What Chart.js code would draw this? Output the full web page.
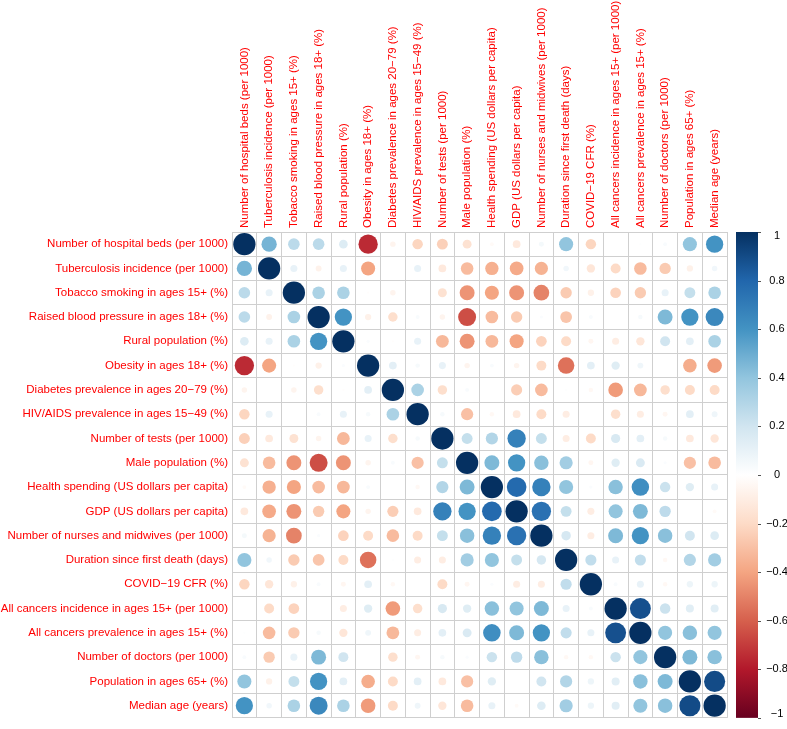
<!DOCTYPE html>
<html>
<head>
<meta charset="utf-8">
<script src="https://cdn.jsdelivr.net/npm/chart.js@4/dist/chart.umd.min.js"></script>
<style>
  html, body { margin: 0; padding: 0; background: #ffffff; }
  #wrap { width: 787px; height: 729px; }
</style>
</head>
<body>
<div id="wrap"><canvas id="c" width="787" height="729"></canvas></div>
<script>
// ---- variable labels ----
const varLabels = [
  "Number of hospital beds (per 1000)",
  "Tuberculosis incidence (per 1000)",
  "Tobacco smoking in ages 15+ (%)",
  "Raised blood pressure in ages 18+ (%)",
  "Rural population (%)",
  "Obesity in ages 18+ (%)",
  "Diabetes prevalence in ages 20\u221279 (%)",
  "HIV/AIDS prevalence in ages 15\u221249 (%)",
  "Number of tests (per 1000)",
  "Male population (%)",
  "Health spending (US dollars per capita)",
  "GDP (US dollars per capita)",
  "Number of nurses and midwives (per 1000)",
  "Duration since first death (days)",
  "COVID\u221219 CFR (%)",
  "All cancers incidence in ages 15+ (per 1000)",
  "All cancers prevalence in ages 15+ (%)",
  "Number of doctors (per 1000)",
  "Population in ages 65+ (%)",
  "Median age (years)"
];

// ---- correlation rows (one per variable) ----
const hospitalBeds  = [1, 0.47, 0.27, 0.27, 0.15, -0.75, -0.06, -0.22, -0.24, -0.16, -0.03, -0.12, 0.05, 0.40, -0.22, 0.00, 0.01, 0.03, 0.40, 0.60];
const tuberculosis  = [0.47, 1, 0.10, -0.07, 0.10, -0.40, 0.00, 0.10, -0.12, -0.32, -0.36, -0.38, -0.35, 0.06, -0.14, -0.20, -0.32, -0.26, -0.08, 0.06];
const tobacco       = [0.27, 0.10, 1, 0.32, 0.32, -0.01, -0.06, 0.00, -0.16, -0.45, -0.40, -0.45, -0.50, -0.26, -0.08, -0.23, -0.26, 0.10, 0.24, 0.32];
const bloodPressure = [0.27, -0.07, 0.32, 1, 0.60, -0.08, -0.18, 0.03, -0.06, -0.65, -0.32, -0.26, 0.02, -0.28, 0.03, 0.00, 0.04, 0.45, 0.60, 0.65];
const ruralPop      = [0.15, 0.10, 0.32, 0.60, 1, 0.02, -0.01, 0.10, -0.33, -0.45, -0.33, -0.40, -0.23, -0.20, -0.05, -0.10, -0.14, 0.20, 0.12, 0.32];
const obesity       = [-0.75, -0.40, -0.01, -0.08, 0.02, 1, 0.12, 0.04, 0.10, -0.06, 0.03, -0.06, -0.20, -0.55, 0.12, 0.14, 0.07, 0.00, -0.37, -0.43];
const diabetes      = [-0.06, 0.00, -0.06, -0.18, -0.01, 0.12, 1, 0.32, -0.18, 0.03, 0.00, -0.25, -0.32, 0.01, -0.04, -0.43, -0.33, -0.18, -0.20, -0.20];
const hivAids       = [-0.22, 0.10, 0.00, 0.03, 0.10, 0.04, 0.32, 1, 0.04, -0.30, -0.04, -0.12, -0.20, -0.10, 0.00, -0.18, -0.10, -0.05, 0.12, 0.07];
const tests         = [-0.24, -0.12, -0.16, -0.06, -0.33, 0.10, -0.18, 0.04, 1, 0.24, 0.30, 0.68, 0.24, -0.10, -0.20, 0.17, 0.12, 0.04, -0.12, -0.14];
const malePop       = [-0.16, -0.32, -0.45, -0.65, -0.45, -0.06, 0.03, -0.30, 0.24, 1, 0.45, 0.60, 0.42, 0.35, -0.05, 0.14, 0.16, 0.02, -0.30, -0.32];
const healthSpend   = [-0.03, -0.36, -0.40, -0.32, -0.33, 0.03, 0.00, -0.04, 0.30, 0.45, 1, 0.78, 0.68, 0.40, 0.02, 0.42, 0.62, 0.22, 0.14, 0.10];
const gdp           = [-0.12, -0.38, -0.45, -0.26, -0.40, -0.06, -0.25, -0.12, 0.68, 0.60, 0.78, 1, 0.75, 0.24, -0.10, 0.40, 0.45, 0.26, 0.00, -0.03];
const nurses        = [0.05, -0.35, -0.50, 0.02, -0.23, -0.20, -0.32, -0.20, 0.24, 0.42, 0.68, 0.75, 1, 0.18, -0.10, 0.45, 0.60, 0.42, 0.20, 0.15];
const durationDeath = [0.40, 0.06, -0.26, -0.28, -0.20, -0.55, 0.01, -0.10, -0.10, 0.35, 0.40, 0.24, 0.18, 1, 0.25, 0.10, 0.25, -0.04, 0.30, 0.35];
const covidCfr      = [-0.22, -0.14, -0.08, 0.03, -0.05, 0.12, -0.04, 0.00, -0.20, -0.05, 0.02, -0.10, -0.10, 0.25, 1, 0.03, 0.10, -0.04, 0.08, 0.08];
const cancerInc     = [0.00, -0.20, -0.23, 0.00, -0.10, 0.14, -0.43, -0.18, 0.17, 0.14, 0.42, 0.40, 0.45, 0.10, 0.03, 1, 0.88, 0.22, 0.13, 0.13];
const cancerPrev    = [0.01, -0.32, -0.26, 0.04, -0.14, 0.07, -0.33, -0.10, 0.12, 0.16, 0.62, 0.45, 0.60, 0.25, 0.10, 0.88, 1, 0.40, 0.42, 0.40];
const doctors       = [0.03, -0.26, 0.10, 0.45, 0.20, 0.00, -0.18, -0.05, 0.04, 0.02, 0.22, 0.26, 0.42, -0.04, -0.04, 0.22, 0.40, 1, 0.45, 0.42];
const pop65         = [0.40, -0.08, 0.24, 0.60, 0.12, -0.37, -0.20, 0.12, -0.12, -0.30, 0.14, 0.00, 0.20, 0.30, 0.08, 0.13, 0.42, 0.45, 1, 0.90];
const medianAge     = [0.60, 0.06, 0.32, 0.65, 0.32, -0.43, -0.20, 0.07, -0.14, -0.32, 0.10, -0.03, 0.15, 0.35, 0.08, 0.13, 0.40, 0.42, 0.90, 1];

// ---- colour legend ticks ----
const legendTicks = [1, 0.8, 0.6, 0.4, 0.2, 0, -0.2, -0.4, -0.6, -0.8, -1];

const corrRows = [hospitalBeds, tuberculosis, tobacco, bloodPressure, ruralPop, obesity,
  diabetes, hivAids, tests, malePop, healthSpend, gdp, nurses, durationDeath, covidCfr,
  cancerInc, cancerPrev, doctors, pop65, medianAge];

// RdBu palette (corrplot COL2), from -1 to 1
const palette = ["#67001F", "#B2182B", "#D6604D", "#F4A582", "#FDDBC7", "#FFFFFF",
                 "#D1E5F0", "#92C5DE", "#4393C3", "#2166AC", "#053061"];
function hexToRgb(h) { return [parseInt(h.substr(1,2),16), parseInt(h.substr(3,2),16), parseInt(h.substr(5,2),16)]; }
const palRgb = palette.map(hexToRgb);
function colorFor(v) {
  const t = (Math.max(-1, Math.min(1, v)) + 1) / 2 * (palRgb.length - 1);
  const i = Math.min(palRgb.length - 2, Math.floor(t));
  const f = t - i;
  const a = palRgb[i], b = palRgb[i + 1];
  const c = a.map((x, k) => Math.round(x + (b[k] - x) * f));
  return `rgb(${c[0]},${c[1]},${c[2]})`;
}

const points = [];
corrRows.forEach((row, i) => {
  row.forEach((v, j) => {
    points.push({ x: varLabels[j], y: varLabels[i], v: v });
  });
});

const colorBarPlugin = {
  id: 'colorBar',
  afterDraw(chart) {
    const ctx = chart.ctx;
    const ca = chart.chartArea;
    const x0 = 736, w = 22;
    const top = ca.top, bottom = ca.bottom;
    const grad = ctx.createLinearGradient(0, bottom, 0, top);
    palette.forEach((c, k) => grad.addColorStop(k / (palette.length - 1), c));
    ctx.save();
    ctx.fillStyle = grad;
    ctx.fillRect(x0, top, w, bottom - top);
    ctx.strokeStyle = '#555';
    ctx.lineWidth = 1;
    ctx.fillStyle = '#000';
    ctx.font = '11px "Liberation Sans", Arial, sans-serif';
    ctx.textAlign = 'center';
    ctx.textBaseline = 'middle';
    legendTicks.forEach(t => {
      const y = bottom - (t + 1) / 2 * (bottom - top);
      const yy = Math.round(y) + 0.5;
      ctx.beginPath();
      ctx.moveTo(x0 + w, yy);
      ctx.lineTo(x0 + w + 3, yy);
      ctx.stroke();
      const txt = (t < 0 ? '\u2212' : '') + String(Math.abs(t));
      ctx.fillText(txt, 777, Math.min(Math.max(y, top + 4), bottom - 4));
    });
    ctx.restore();
  }
};

const labelFont = { family: '"Liberation Sans", Arial, sans-serif', size: 11.5 };

new Chart(document.getElementById('c'), {
  type: 'bubble',
  data: {
    datasets: [{
      data: points,
      borderWidth: 0,
      backgroundColor: ctx => colorFor(ctx.raw ? ctx.raw.v : 0),
      hoverBackgroundColor: ctx => colorFor(ctx.raw ? ctx.raw.v : 0),
      radius: ctx => {
        const ca = ctx.chart.chartArea;
        const cw = ca ? (ca.right - ca.left) / varLabels.length : 24.75;
        const v = ctx.raw ? ctx.raw.v : 0;
        return 0.45 * Math.sqrt(Math.abs(v)) * cw;
      },
      hoverRadius: 0,
      hoverBorderWidth: 0
    }]
  },
  options: {
    responsive: false,
    animation: false,
    events: [],
    layout: { padding: { left: 0, top: 0, right: 60, bottom: 2 } },
    plugins: { legend: { display: false }, tooltip: { enabled: false } },
    scales: {
      x: {
        type: 'category',
        labels: varLabels,
        position: 'top',
        offset: true,
        grid: { offset: true, color: '#cfcfcf', lineWidth: 1, drawTicks: false },
        border: { color: '#cfcfcf' },
        ticks: {
          autoSkip: false, maxRotation: 90, minRotation: 90, padding: 4,
          labelOffset: 14,
          color: '#FF0000',
          font: labelFont
        },
        afterFit: s => { s.height = 232; }
      },
      y: {
        type: 'category',
        labels: varLabels,
        offset: true,
        grid: { offset: true, color: '#cfcfcf', lineWidth: 1, drawTicks: false },
        border: { color: '#cfcfcf' },
        ticks: {
          autoSkip: false, padding: 4,
          color: '#FF0000',
          font: labelFont
        },
        afterFit: s => { s.width = 232; }
      }
    }
  },
  plugins: [colorBarPlugin]
});
</script>
</body>
</html>
